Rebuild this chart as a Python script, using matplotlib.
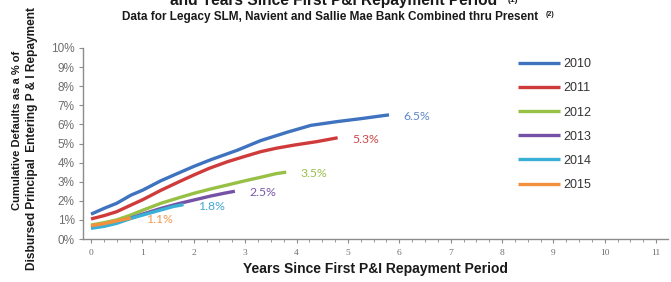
import matplotlib
matplotlib.use("Agg")
import matplotlib.pyplot as plt
from matplotlib.ticker import MultipleLocator, PercentFormatter

# ---- data ----
cohorts = ["2010", "2011", "2012", "2013", "2014", "2015"]
years_2010 = [0, 0.25, 0.5, 0.78, 1.0, 1.36, 1.7, 2.0, 2.33, 2.85, 3.3, 3.83, 4.28, 4.8, 5.25, 5.8]
vals_2010 = [1.3, 1.6, 1.87, 2.3, 2.55, 3.05, 3.45, 3.8, 4.15, 4.65, 5.15, 5.6, 5.95, 6.15, 6.3, 6.5]
years_2011 = [0, 0.25, 0.5, 0.78, 1.0, 1.36, 1.7, 2.0, 2.3, 2.66, 3.0, 3.3, 3.6, 3.96, 4.4, 4.8]
vals_2011 = [1.05, 1.22, 1.43, 1.78, 2.05, 2.55, 2.98, 3.35, 3.7, 4.05, 4.33, 4.57, 4.75, 4.92, 5.1, 5.3]
years_2012 = [0, 0.25, 0.5, 0.78, 1.0, 1.36, 1.7, 2.0, 2.33, 2.66, 3.0, 3.3, 3.6, 3.8]
vals_2012 = [0.73, 0.85, 1.0, 1.26, 1.5, 1.87, 2.15, 2.39, 2.62, 2.83, 3.05, 3.23, 3.42, 3.5]
years_2013 = [0, 0.25, 0.5, 0.78, 1.0, 1.36, 1.7, 2.0, 2.33, 2.6, 2.8]
vals_2013 = [0.6, 0.72, 0.88, 1.1, 1.3, 1.6, 1.85, 2.04, 2.25, 2.4, 2.5]
years_2014 = [0, 0.25, 0.5, 0.78, 1.0, 1.36, 1.6, 1.8]
vals_2014 = [0.56, 0.66, 0.82, 1.08, 1.25, 1.52, 1.7, 1.8]
years_2015 = [0, 0.25, 0.5, 0.78]
vals_2015 = [0.7, 0.8, 0.95, 1.1]
end_labels = ["6.5%", "5.3%", "3.5%", "2.5%", "1.8%", "1.1%"]
x_ticks = list(range(0, 12))

series_x = [years_2010, years_2011, years_2012, years_2013, years_2014, years_2015]
series_y = [vals_2010, vals_2011, vals_2012, vals_2013, vals_2014, vals_2015]
line_colors = ["#3f72bf", "#cf3b3b", "#97c045", "#7552a6", "#3ab0d6", "#f2913d"]
label_colors = ["#5f87c6", "#cc4848", "#9bbf4e", "#7a58aa", "#44a8cf", "#f29a55"]

fig = plt.figure(figsize=(6.71, 2.82), dpi=100)
ax = fig.add_axes([83/671, 43/282, (668-83)/671, 191/282])

handles = []
for name, xs, ys, lc, tc, lab in zip(cohorts, series_x, series_y, line_colors, label_colors, end_labels):
    h, = ax.plot(xs, ys, color=lc, lw=2.4, solid_capstyle="butt", label=name)
    handles.append(h)
    ax.annotate(lab, (xs[-1], ys[-1]), xytext=(10.5, -1), textcoords="offset points",
                color=tc, fontsize=8.8, family="Lato", va="center", ha="left")

ax.set_xlim(-0.156, 11.23)
ax.set_ylim(0, 10)
ax.set_xticks(x_ticks)
ax.xaxis.set_minor_locator(MultipleLocator(0.25))
ax.set_yticks(range(0, 11))
ax.yaxis.set_major_formatter(PercentFormatter(decimals=0))

for s in ["top", "right"]:
    ax.spines[s].set_visible(False)
for s in ["left", "bottom"]:
    ax.spines[s].set_color("#8c8c8c")
    ax.spines[s].set_linewidth(1.0)
ax.tick_params(axis="y", which="major", direction="out", length=3, color="#8c8c8c",
               labelsize=8.5, labelcolor="#6e6e6e", pad=3)
ax.tick_params(axis="x", which="major", direction="out", length=3, color="#8c8c8c",
               labelsize=6.8, labelcolor="#6e6e6e", pad=4)
ax.tick_params(axis="x", which="minor", direction="out", length=2, color="#8c8c8c")
for t in ax.get_yticklabels():
    t.set_family("Liberation Sans")
for t in ax.get_xticklabels():
    t.set_family("Liberation Serif")

ax.set_xlabel("Years Since First P&I Repayment Period", fontsize=10, fontweight="bold",
              family="Liberation Sans", color="#1a1a1a", labelpad=4)

fig.text(17/671, 1 - 130/282, "Cumulative Defaults as a % of", rotation=90, ha="center", va="center",
         fontsize=8.0, fontweight="bold", family="Liberation Sans", color="#1a1a1a")
fig.text(32/671, 1 - 139/282, "Disbursed Principal  Entering P & I Repayment", rotation=90, ha="center",
         va="center", fontsize=8.6, fontweight="bold", family="Liberation Sans", color="#1a1a1a")

fig.text(334/671, 1 - 1/282, "and Years Since First P&I Repayment Period", ha="center", va="center",
         fontsize=11.2, fontweight="bold", family="Liberation Sans", color="#1a1a1a")
fig.text(508/671, 1 - 0/282, "(1)", ha="left", va="center",
         fontsize=6, fontweight="bold", family="Liberation Sans", color="#1a1a1a")
fig.text(330/671, 1 - 17/282, "Data for Legacy SLM, Navient and Sallie Mae Bank Combined thru Present",
         ha="center", va="center", fontsize=8.5, fontweight="bold", family="Liberation Sans", color="#1a1a1a")
fig.text(546/671, 1 - 14/282, "(2)", ha="left", va="center",
         fontsize=5, fontweight="bold", family="Liberation Sans", color="#1a1a1a")

leg = ax.legend(handles=handles, loc="upper left", bbox_to_anchor=(512/671, 1 - 52/282),
                bbox_transform=fig.transFigure, frameon=False, handlelength=3.3,
                handletextpad=0.3, labelspacing=0.97, borderpad=0,
                prop={"family": "Liberation Sans", "size": 9})
for t in leg.get_texts():
    t.set_color("#333333")

fig.savefig("out.png", dpi=100)
